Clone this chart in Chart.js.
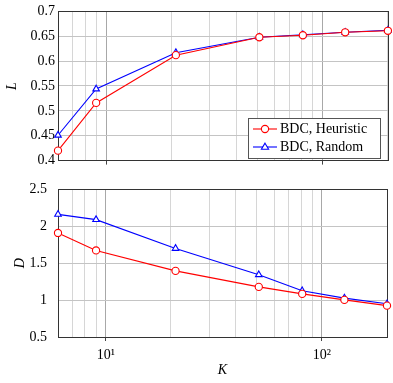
<!DOCTYPE html>
<html>
<head>
<meta charset="utf-8">
<script src="https://cdn.jsdelivr.net/npm/chart.js@4.4.1/dist/chart.umd.min.js"></script>
<style>
  body { margin: 0; background: #fff; }
  .panel { position: absolute; left: 0; }
</style>
</head>
<body>
<div class="panel" style="top:0"><canvas id="lChart" width="393" height="172"></canvas></div>
<div class="panel" style="top:170px"><canvas id="dChart" width="393" height="213"></canvas></div>
<script>
// Data
const kValues = [6, 9, 21, 51, 81, 127, 200];
const lHeuristic = [0.42, 0.516, 0.612, 0.648, 0.652, 0.658, 0.661];
const lRandom = [0.451, 0.544, 0.617, 0.648, 0.653, 0.658, 0.662];
const dHeuristic = [1.91, 1.673, 1.396, 1.179, 1.084, 1.003, 0.925];
const dRandom = [2.162, 2.09, 1.70, 1.344, 1.127, 1.027, 0.95];
const seriesNames = ['BDC, Heuristic', 'BDC, Random'];
const kGrid = [6, 7, 8, 9, 10, 20, 30, 40, 50, 60, 70, 80, 90, 100, 200];
const lTicks = [0.4, 0.45, 0.5, 0.55, 0.6, 0.65, 0.7];
const dTicks = [0.5, 1, 1.5, 2, 2.5];

const serif = "'Liberation Serif', 'DejaVu Serif', serif";
const RED = '#ff0000';
const BLUE = '#0000ff';

function toPoints(ys) {
  return kValues.map((k, i) => ({ x: k, y: ys[i] }));
}

function makeDatasets(red, blue) {
  return [
    { label: seriesNames[0], data: toPoints(red), borderColor: RED, backgroundColor: '#fff',
      pointStyle: 'circle', pointRadius: 3.6, pointBorderWidth: 1.1, borderWidth: 1.1, clip: false, tension: 0 },
    { label: seriesNames[1], data: toPoints(blue), borderColor: BLUE, backgroundColor: '#fff',
      pointStyle: 'triangle', pointRadius: 3.8, pointBorderWidth: 1.1, borderWidth: 1.1, clip: false, tension: 0 }
  ];
}

const isMajor = v => v === 10 || v === 100;

function xScale(showLabels, height) {
  return {
    type: 'logarithmic', min: 6, max: 200,
    afterBuildTicks: s => { s.ticks = kGrid.map(v => ({ value: v, major: isMajor(v) })); },
    afterFit: s => { s.height = height; },
    grid: {
      color: c => isMajor(c.tick && c.tick.value) ? '#a8a8a8' : '#d6d6d6',
      lineWidth: 1, drawTicks: true, tickLength: 4,
      tickColor: c => isMajor(c.tick && c.tick.value) ? '#444' : 'rgba(0,0,0,0)'
    },
    border: { display: false },
    ticks: {
      display: showLabels, autoSkip: false, maxRotation: 0, padding: 6, color: '#000',
      font: { family: serif, size: 14 },
      callback: v => v === 10 ? '10¹' : (v === 100 ? '10²' : '')
    },
    title: showLabels ? { display: true, text: 'K', color: '#000',
      font: { family: serif, size: 14, style: 'italic' }, padding: { top: 4 } } : { display: false }
  };
}

function yScale(min, max, ticks, label, width, pad) {
  return {
    type: 'linear', min: min, max: max,
    afterBuildTicks: s => { s.ticks = ticks.map(v => ({ value: v })); },
    afterFit: s => { s.width = width; },
    grid: { color: '#c4c4c4', lineWidth: 1, drawTicks: false },
    border: { display: false },
    ticks: { padding: pad, color: '#000', font: { family: serif, size: 14 },
      callback: v => String(v) },
    title: { display: true, text: label, color: '#000',
      font: { family: serif, size: 14, style: 'italic' }, padding: 0 }
  };
}

// black box round the plot area
const framePlugin = {
  id: 'frame',
  beforeDatasetsDraw(chart) {
    const a = chart.chartArea, c = chart.ctx;
    c.save();
    c.strokeStyle = '#333';
    c.lineWidth = 1;
    c.strokeRect(Math.round(a.left) + 0.5, Math.round(a.top) + 0.5,
      Math.round(a.right - a.left), Math.round(a.bottom - a.top));
    c.restore();
  }
};

// legend drawn inside the top plot, lower right
const legendPlugin = {
  id: 'boxLegend',
  afterDraw(chart) {
    const c = chart.ctx;
    const x0 = 248, y0 = 118, w = 132, h = 40;
    c.save();
    c.fillStyle = '#fff';
    c.fillRect(x0, y0, w, h);
    c.strokeStyle = '#555';
    c.lineWidth = 1;
    c.strokeRect(x0 + 0.5, y0 + 0.5, w, h);
    chart.data.datasets.forEach((ds, i) => {
      const y = y0 + 11 + i * 18;
      const cx = x0 + 17;
      c.strokeStyle = ds.borderColor;
      c.lineWidth = 1.1;
      c.beginPath(); c.moveTo(x0 + 5, y); c.lineTo(x0 + 29, y); c.stroke();
      c.fillStyle = '#fff';
      c.beginPath();
      if (ds.pointStyle === 'circle') {
        c.arc(cx, y, ds.pointRadius, 0, Math.PI * 2);
      } else {
        const r = ds.pointRadius;
        c.moveTo(cx, y - r);
        c.lineTo(cx + r * 0.95, y + r * 0.6);
        c.lineTo(cx - r * 0.95, y + r * 0.6);
        c.closePath();
      }
      c.fill(); c.stroke();
      c.fillStyle = '#000';
      c.font = '14px ' + serif;
      c.textBaseline = 'middle';
      c.fillText(ds.label, x0 + 32, y + 0.5);
    });
    c.restore();
  }
};

const common = {
  responsive: false, animation: false,
  plugins: { legend: { display: false }, tooltip: { enabled: false } }
};

new Chart(document.getElementById('lChart'), {
  type: 'line',
  data: { datasets: makeDatasets(lHeuristic, lRandom) },
  options: Object.assign({}, common, {
    layout: { padding: { top: 9, right: 2, left: 4, bottom: 0 } },
    scales: { x: xScale(false, 9), y: yScale(0.4, 0.7, lTicks, 'L', 54, 3) }
  }),
  plugins: [framePlugin, legendPlugin]
});

new Chart(document.getElementById('dChart'), {
  type: 'line',
  data: { datasets: makeDatasets(dHeuristic, dRandom) },
  options: Object.assign({}, common, {
    layout: { padding: { top: 13, right: 2, left: 12, bottom: 0 } },
    scales: { x: xScale(true, 46), y: yScale(0.5, 2.5, dTicks, 'D', 46, 11) }
  }),
  plugins: [framePlugin]
});
</script>
</body>
</html>
